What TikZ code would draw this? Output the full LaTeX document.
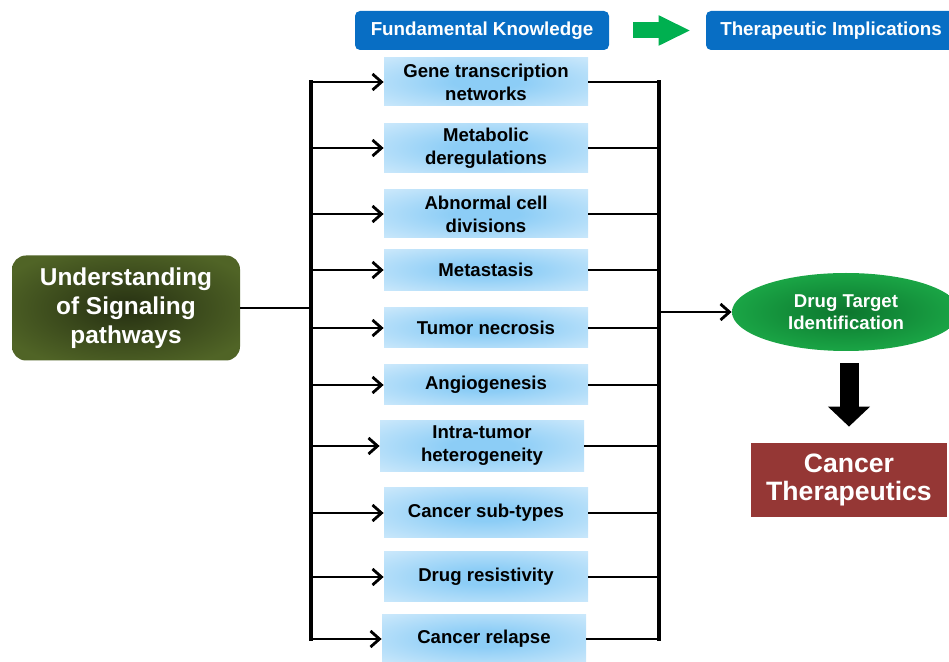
\documentclass[tikz,border=0pt]{standalone}
\usepackage{fontspec}
\setmainfont{Liberation Sans}
\usetikzlibrary{shapes.geometric,arrows.meta}
\definecolor{hdrblue}{RGB}{8,110,196}
\definecolor{arrgreen}{RGB}{0,176,80}
\definecolor{sigolive}{RGB}{80,100,38}
\definecolor{sigdark}{RGB}{38,48,18}
\definecolor{boxin}{RGB}{140,205,246}
\definecolor{boxout}{RGB}{226,242,253}
\definecolor{ellout}{RGB}{30,178,76}
\definecolor{ellin}{RGB}{12,118,46}
\definecolor{ctred}{RGB}{149,55,53}
\pgfdeclareradialshading{boxglow}{\pgfpoint{0bp}{0bp}}{color(0bp)=(boxin); color(8bp)=(boxin); color(46bp)=(boxout); color(50bp)=(boxout)}
\pgfdeclareradialshading{oliveglow}{\pgfpoint{0bp}{0bp}}{color(0bp)=(sigdark); color(30bp)=(sigolive); color(50bp)=(sigolive)}
\pgfdeclareradialshading{ellglow}{\pgfpoint{0bp}{0bp}}{color(0bp)=(ellin); color(32bp)=(ellout); color(50bp)=(ellout)}

\begin{document}
\begin{tikzpicture}[x=0.5pt,y=-0.5pt,
  hdr/.style={fill=hdrblue,rounded corners=2.5pt,text=white,font=\fontsize{9.4}{11}\selectfont\bfseries,minimum height=19.5pt,inner sep=0pt},
  topic/.style={shading=boxglow,align=center,font=\fontsize{9.3}{11.5}\selectfont\bfseries,minimum width=102pt,inner sep=0pt},
  link/.style={line width=1.4pt},
  bus/.style={line width=1.8pt,line cap=rect},
  arr/.style={link,-{Straight Barb[length=4.5pt,width=8pt]}}]
\useasboundingbox (0,0) rectangle (949,662);

\node[hdr,minimum width=127pt] (fk) at (482,30.5) {Fundamental Knowledge};
\node[hdr,minimum width=125pt] (ti) at (831,30.5) {Therapeutic Implications};
\draw[arrgreen,line width=8pt,-{Triangle[length=16pt,width=14pt]}] ([xshift=12pt]fk.east) -- ([xshift=-7.5pt]ti.west);

\node[shading=oliveglow,rounded corners=7pt,minimum width=114pt,minimum height=52.5pt,text=white,align=center,font=\fontsize{12.2}{14.5}\selectfont\bfseries] (usp) at (126,308) {Understanding\\of Signaling\\pathways};

\foreach \n/\x/\y/\h/\t in {g1/486/82/24/{Gene transcription\\networks}, g2/486/148/24.5/{Metabolic\\deregulations}, g3/486/214/24/{Abnormal cell\\divisions}, g4/486/270/20.5/Metastasis, g5/486/328/20/Tumor necrosis, g6/486/385/20/Angiogenesis, g7/482/446/25.5/{Intra-tumor\\heterogeneity}, g8/486/513/25/Cancer sub-types, g9/486/577/25/Drug resistivity, g10/484/639/24/Cancer relapse}
  \node[topic,minimum height=\h pt] (\n) at (\x,\y) {\t};

\coordinate (lbus) at (311,0); \coordinate (rbus) at (659,0);
\draw[link] (usp.east) -- (usp.east -| lbus);
\draw[bus] (lbus |- g1.west) -- (lbus |- g10.west);
\draw[bus] (rbus |- g1.east) -- (rbus |- g10.east);
\foreach \i in {1,...,10}{\draw[arr] (lbus |- g\i.west) -- (g\i.west); \draw[link] (g\i.east) -- (g\i.east -| rbus);}

\node[ellipse,shading=ellglow,minimum width=114pt,minimum height=39pt,inner sep=0pt,text=white,align=center,font=\fontsize{9.3}{11}\selectfont\bfseries] (dti) at (846,312) {Drug Target\\Identification};
\draw[arr] (rbus |- dti.west) -- (dti.west);

\node[fill=ctred,minimum width=98pt,minimum height=37pt,text=white,align=center,font=\fontsize{13.3}{14}\selectfont\bfseries] (ct) at (849,480) {Cancer\\Therapeutics};
\draw[line width=9.5pt,-{Triangle[length=10pt,width=20.5pt]}] ([yshift=-6pt]dti.south -| ct.north) -- ([yshift=8pt]ct.north);
\end{tikzpicture}
\end{document}
